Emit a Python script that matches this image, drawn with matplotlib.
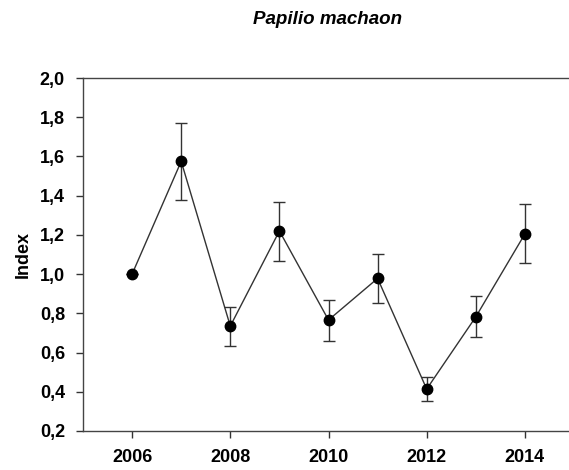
import matplotlib.pyplot as plt
from matplotlib.ticker import FuncFormatter

years = [2006, 2007, 2008, 2009, 2010, 2011, 2012, 2013, 2014]
index = [1.0, 1.575, 0.735, 1.22, 0.766, 0.978, 0.414, 0.782, 1.205]
err_low = [1.0, 1.378, 0.634, 1.067, 0.659, 0.853, 0.353, 0.68, 1.057]
err_high = [1.0, 1.768, 0.833, 1.368, 0.868, 1.103, 0.476, 0.889, 1.357]

plt.rcParams['font.family'] = ['Liberation Sans', 'DejaVu Sans']

fig = plt.figure(figsize=(5.69, 4.70), dpi=100)
ax = fig.add_axes([83 / 569, 1 - 431 / 470, 491 / 569, 353 / 470])

yerr = [[v - lo for v, lo in zip(index, err_low)],
        [hi - v for v, hi in zip(index, err_high)]]
ax.errorbar(years, index, yerr=yerr, fmt='none', ecolor='#333333',
            elinewidth=1, capsize=4, capthick=1, zorder=2)
ax.plot(years, index, color='#333333', lw=1, zorder=2)
ax.plot(years, index, 'o', color='black', markersize=7.5, zorder=3)

ax.set_xlim(2005, 2015)
ax.set_ylim(0.2, 2.0)
ax.set_xticks([2006, 2008, 2010, 2012, 2014])
ax.set_yticks([0.2, 0.4, 0.6, 0.8, 1.0, 1.2, 1.4, 1.6, 1.8, 2.0])
ax.yaxis.set_major_formatter(FuncFormatter(lambda v, p: f'{v:.1f}'.replace('.', ',')))
ax.tick_params(direction='out', length=5, width=1, labelsize=13, colors='#333333',
               labelcolor='black', pad=8)
for lab in ax.get_xticklabels() + ax.get_yticklabels():
    lab.set_fontweight('bold')
for s in ax.spines.values():
    s.set_color('#444444')
    s.set_linewidth(1)

ax.set_ylabel('Index', fontsize=13, fontweight='bold', labelpad=6)
fig.text(328 / 569, 1 - 19 / 470, 'Papilio machaon', ha='center', va='center',
         fontsize=13.5, fontweight='bold', style='italic')

fig.savefig('out.png', dpi=100)
